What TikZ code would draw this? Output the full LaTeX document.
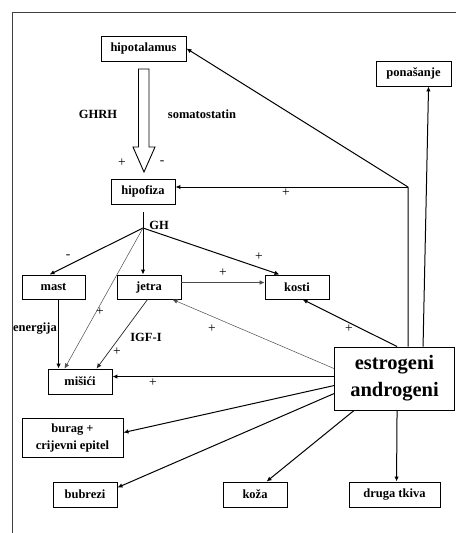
\documentclass[tikz,border=0pt]{standalone}
\usepackage{fontspec}
\setmainfont{Liberation Serif}
\usetikzlibrary{arrows.meta}
\begin{document}
\begin{tikzpicture}[x=1pt,y=-1pt,
  box/.style={draw, line width=0.9pt, inner sep=0pt, align=center,
    font=\fontsize{12.5}{14}\selectfont\bfseries},
  lbl/.style={inner sep=0pt, font=\fontsize{12.5}{14}\selectfont\bfseries},
  sgn/.style={inner sep=0pt, font=\fontsize{13.5}{14}\selectfont},
  con/.style={line width=1pt, -{Latex[length=5pt,width=4.5pt]}},
  thin/.style={line width=0.5pt, draw=black!70, -{Latex[length=5pt,width=4.5pt]}},
  plain/.style={line width=1pt}]
\useasboundingbox (0,0) rectangle (456,533);
% frame
\draw[line width=0.9pt, draw=black!75] (12,533) -- (12,12) -- (456,12);
% boxes
\node[box, minimum width=85pt, minimum height=25pt] (hipot) at (143.5,48.5) {hipotalamus};
\node[box, minimum width=75pt, minimum height=25pt] (pona) at (413.5,73.5) {ponašanje};
\node[box, minimum width=64pt, minimum height=25pt] (hipof) at (143,191.5) {hipofiza};
\node[box, minimum width=63pt, minimum height=24pt] (mast) at (53.5,287) {mast};
\node[box, minimum width=64pt, minimum height=24pt] (jetra) at (149,287) {jetra};
\node[box, minimum width=64pt, minimum height=24pt] (kosti) at (297,287) {kosti};
\node[box, minimum width=64pt, minimum height=25pt] (misici) at (80,381.5) {mišići};
\node[box, minimum width=120pt, minimum height=63pt, font=\fontsize{20.5}{27}\selectfont\bfseries] (est) at (394.5,378.5) {estrogeni\\androgeni};
\node[box, minimum width=101pt, minimum height=39pt, font=\fontsize{12.5}{17}\selectfont\bfseries] (burag) at (72.5,437.5) {burag +\\crijevni epitel};
\node[box, minimum width=64pt, minimum height=25pt] (bubr) at (85,494.5) {bubrezi};
\node[box, minimum width=64pt, minimum height=25pt] (koza) at (255,494.5) {koža};
\node[box, minimum width=91pt, minimum height=25pt] (druga) at (394.5,494.5) {druga tkiva};
% hollow arrow
\draw[line width=0.9pt] (138.5,69) -- (149,69) -- (149,147) -- (155,147) -- (144,172) -- (133,147) -- (138.5,147) -- cycle;
% coordinates
\coordinate (J) at (408,187);
\coordinate (G) at (143,228);
% connectors
\draw[plain] ([xshift=74pt]est.north west) -- (J);
\draw[con] (J) -- (hipot.east);
\draw[con] (J) -- (J -| hipof.east);
\draw[con] ([xshift=89pt]est.north west) -- ([xshift=53pt]pona.south west);
\draw[plain] ([yshift=-8pt]hipof.south) -- (G);
\draw[con] (G) -- ([xshift=28pt]mast.north west);
\draw[con] (G) -- (G |- jetra.north);
\draw[con] (G) -- ([xshift=15pt]kosti.north west);
\draw[thin] (G) -- ([xshift=17pt]misici.north west);
\draw[con] ([xshift=37pt]mast.south west) -- ([xshift=11pt]misici.north west);
\draw[thin, line width=0.7pt, draw=black!85] ([xshift=31pt]jetra.south west) -- ([xshift=49pt]misici.north west);
\draw[thin] ([yshift=-8pt]jetra.north east) -- ([yshift=-8pt]kosti.north west);
\draw[thin] ([yshift=-22pt]est.north west) -- ([xshift=-9pt]jetra.south east);
\draw[con] ([xshift=63pt]est.north west) -- ([xshift=38pt]kosti.south west);
\draw[con] ([yshift=-30pt]est.north west) -- ([yshift=-8pt]misici.north east);
\draw[con] ([yshift=-39pt]est.north west) -- ([yshift=-15pt]burag.north east);
\draw[con] ([yshift=-47pt]est.north west) -- ([yshift=-6pt]bubr.north east);
\draw[con] ([xshift=20pt]est.south west) -- ([xshift=44pt]koza.north west);
\draw[con] ([xshift=63pt]est.south west) -- ([xshift=48pt]druga.north west);
% labels
\node[lbl] (ghrh) at (98,114) {GHRH};
\node[lbl] (soma) at (202,114) {somatostatin};
\node[sgn] (p1) at (122,163) {+};
\node[sgn] (m1) at (162,163) {-};
\node[sgn] (p2) at (286,193) {+};
\node[lbl] (gh) at (159,225) {GH};
\node[sgn] (m2) at (68,257) {-};
\node[sgn] (p3) at (259,257) {+};
\node[sgn] (p4) at (100,312) {+};
\node[lbl] (ener) at (35,329) {energija};
\node[lbl] (igf) at (146,337) {IGF-I};
\node[sgn] (p5) at (117,352) {+};
\node[sgn] (p6) at (223,273) {+};
\node[sgn] (p7) at (212,329) {+};
\node[sgn] (p8) at (349,329) {+};
\node[sgn] (p9) at (153,383) {+};
\end{tikzpicture}
\end{document}
